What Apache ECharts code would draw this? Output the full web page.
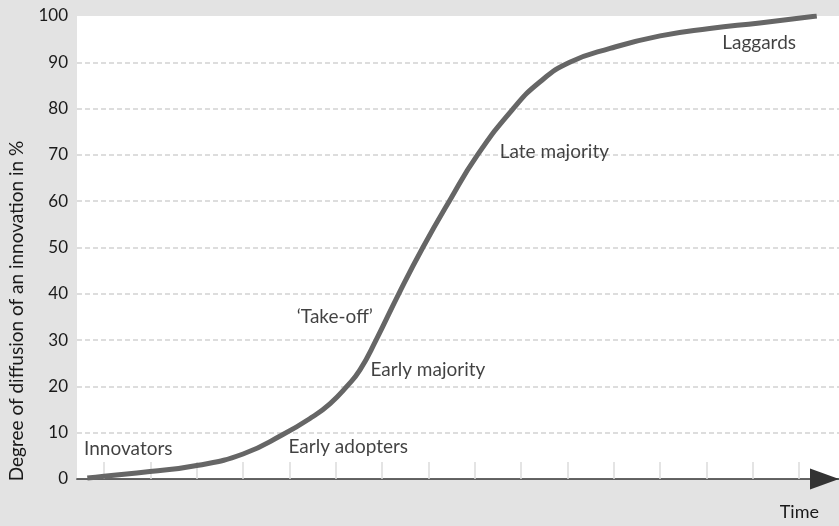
<!DOCTYPE html>
<html>
<head>
<meta charset="utf-8">
<script src="https://cdn.jsdelivr.net/npm/echarts@6/dist/echarts.min.js"></script>
<style>
html,body{margin:0;padding:0;background:#e3e3e3;}
#chart{width:839px;height:526px;}
</style>
</head>
<body>
<div id="chart"></div>
<script>
// Time (in tick units) and diffusion degree (%)
const curveTime = [-0.36, 0, 0.99, 2.0, 3.0, 3.86, 4.51, 4.88, 5.24, 5.52, 5.87, 6.36, 6.88, 7.45, 8.06, 8.83, 9.41, 10.05, 10.92, 12.0, 13.07, 14.15, 15.38];
const curveValue = [0.2, 0.6, 1.6, 2.9, 5.4, 9.6, 13.5, 16.3, 20, 23.5, 30, 40, 50, 60, 70, 80, 85.8, 90, 93, 95.7, 97.3, 98.5, 100];

const phaseNames = ['Innovators', 'Early adopters', '\u2018Take-off\u2019', 'Early majority', 'Late majority', 'Laggards'];
const phaseTime = [-0.43, 3.98, 4.16, 5.75, 8.54, 13.34];
const phaseValue = [6.6, 7.0, 35.0, 23.5, 70.7, 94.3];

const timeTicks = [0,1,2,3,4,5,6,7,8,9,10,11,12,13,14,15];
const yTicks = [0,10,20,30,40,50,60,70,80,90,100];

const yAxisTitle = 'Degree of diffusion of an innovation in %';
const xAxisTitle = 'Time';

const FONT = 'Lato';

const chart = echarts.init(document.getElementById('chart'), null, {renderer: 'canvas'});
chart.setOption({
  backgroundColor: '#e3e3e3',
  animation: false,
  grid: {
    left: 77, right: 0, top: 16, bottom: 47,
    show: true, backgroundColor: '#ffffff', borderWidth: 0
  },
  xAxis: {
    type: 'value',
    min: -0.583,
    max: 15.86,
    axisLine: {
      show: true,
      onZero: false,
      symbol: ['none', 'triangle'],
      symbolSize: [21, 29],
      symbolOffset: [0, -14.5],
      lineStyle: {color: '#333333', width: 1.7}
    },
    axisTick: {
      show: true,
      inside: true,
      length: 17,
      customValues: timeTicks,
      lineStyle: {color: '#dcdcdc', width: 1.5}
    },
    axisLabel: {show: false},
    splitLine: {show: false}
  },
  yAxis: {
    type: 'value',
    min: 0, max: 100, interval: 10,
    axisLine: {show: false},
    axisTick: {show: false},
    axisLabel: {
      margin: 9,
      color: '#1a1a1a',
      fontFamily: FONT,
      fontSize: 17,
      formatter: function (v) { return yTicks.indexOf(v) >= 0 ? String(v) : ''; }
    },
    splitLine: {
      show: true,
      showMinLine: false,
      showMaxLine: false,
      lineStyle: {color: '#dddddd', width: 2, type: [5, 3]}
    }
  },
  graphic: [
    {
      type: 'text',
      x: 17, y: 311,
      rotation: Math.PI / 2,
      style: {
        text: yAxisTitle,
        fill: '#1a1a1a',
        font: '19px ' + FONT,
        textAlign: 'center',
        textVerticalAlign: 'middle'
      }
    },
    {
      type: 'text',
      right: 20, top: 503,
      style: {
        text: xAxisTitle,
        fill: '#1a1a1a',
        font: '18px ' + FONT
      }
    }
  ],
  series: [
    {
      type: 'line',
      data: curveTime.map((t, i) => [t, curveValue[i]]),
      smooth: 0.5,
      showSymbol: false,
      symbol: 'none',
      silent: true,
      lineStyle: {color: '#666666', width: 5}
    },
    {
      type: 'scatter',
      symbolSize: 0,
      silent: true,
      data: phaseNames.map((n, i) => ({name: n, value: [phaseTime[i], phaseValue[i]]})),
      label: {
        show: true,
        position: 'right',
        distance: 0,
        formatter: '{b}',
        color: '#111111',
        fontFamily: FONT,
        fontSize: 19
      }
    }
  ]
});
</script>
</body>
</html>
